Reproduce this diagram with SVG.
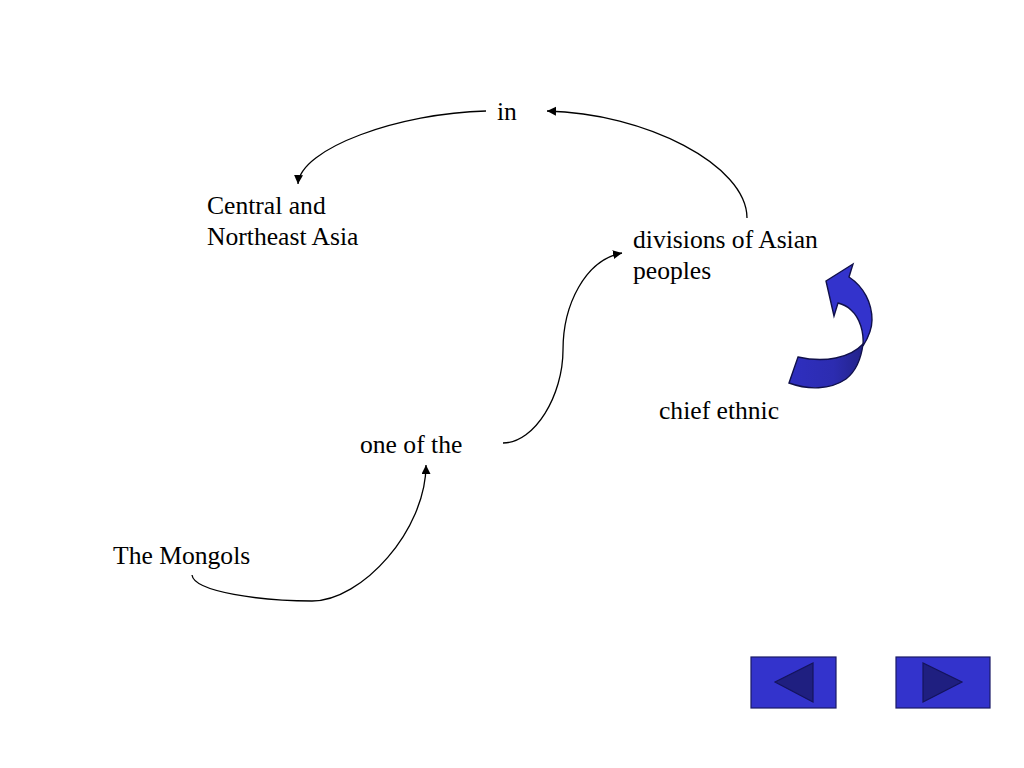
<svg xmlns="http://www.w3.org/2000/svg" width="1024" height="768" viewBox="0 0 1024 768">
<style>
text{font-family:"Liberation Serif","Times New Roman",serif;font-size:25.6px;fill:#000}
.c{fill:none;stroke:#000;stroke-width:1.3}
.b{fill:#3333cc;stroke:#1a1a66;stroke-width:1.2}
.d{fill:#1f1f80;stroke:#14145c;stroke-width:1.2}
.o{stroke:#10104a;stroke-width:1.4}
</style>
<defs>
<marker id="a" markerUnits="userSpaceOnUse" markerWidth="10" markerHeight="10" refX="9" refY="4.5" orient="auto"><path d="M0 0L9 4.5L0 9Z" fill="#000"/></marker>
<linearGradient id="g" gradientUnits="userSpaceOnUse" x1="789" y1="370" x2="864" y2="370"><stop offset="0" stop-color="#2f2fc0"/><stop offset="0.6" stop-color="#2c2cb0"/><stop offset="1" stop-color="#222288"/></linearGradient>
</defs>
<rect width="1024" height="768" fill="#fff"/>
<g id="connectors">
<path class="c" marker-end="url(#a)" d="M192 575C194 592 262 601 312 601C362 601 426 530 426 465"/>
<path class="c" marker-end="url(#a)" d="M503 443C535 443 563 395 563 350C563 305 585 260 622 253"/>
<path class="c" marker-end="url(#a)" d="M747 218C747 165 645 113 547 111"/>
<path class="c" marker-end="url(#a)" d="M486 111C400 113 300 148 298 184"/>
</g>
<g id="node-mongols"><text x="113" y="564">The Mongols</text></g>
<g id="node-one-of-the"><text x="360" y="453">one of the</text></g>
<g id="node-divisions"><text x="633" y="248">divisions of Asian</text><text x="633" y="279">peoples</text></g>
<g id="node-central"><text x="207" y="214">Central and</text><text x="207" y="245">Northeast Asia</text></g>
<g id="node-in"><text x="497" y="120">in</text></g>
<g id="node-chief"><text x="659" y="419">chief ethnic</text></g>
<g id="curved-arrow">
<path class="o" fill="url(#g)" d="M789 383L798 357C825 363 850 358 863 344C861 360 855 372 846 379C830 390 808 390 789 383Z"/>
<path class="o" fill="#3333cc" d="M853 264L849 277C864 287 872 303 872 320C872 330 868 338 863 346C864 332 860 318 851 310C847 306 842 304 838 303L834 316L826 281Z"/>
</g>
<g id="button-prev"><rect class="b" x="751" y="657" width="85" height="51"/><path class="d" d="M813 663V702L775 682Z"/></g>
<g id="button-next"><rect class="b" x="896" y="657" width="94" height="51"/><path class="d" d="M923 663V702L962 682Z"/></g>
</svg>
